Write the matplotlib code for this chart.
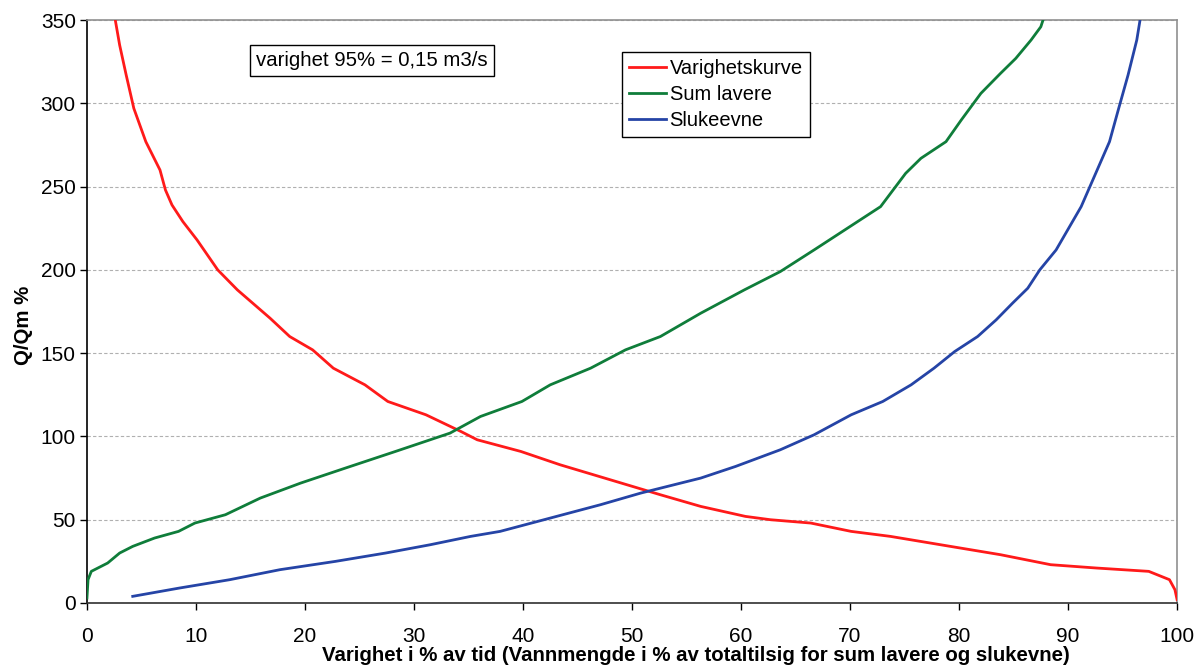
import numpy as np
import matplotlib.pyplot as plt

plt.rcParams['font.family'] = ['Liberation Sans', 'DejaVu Sans']

# Varighetskurve
red_x = [2.6, 3.0, 3.6, 4.3, 5.4, 6.7, 7.2, 7.8, 8.8, 10.1, 12.0, 13.8, 16.8, 18.6,
         20.7, 22.6, 25.5, 27.6, 31.1, 34.3, 35.8, 39.8, 43.4, 48.0, 52.6, 56.3,
         60.4, 62.7, 66.4, 70.1, 73.7, 79.2, 83.8, 88.4, 92.6, 97.4, 99.3, 99.8, 100.0]
red_y = [350, 335, 317, 297, 277, 260, 248, 239, 229, 218, 200, 188, 171, 160,
         152, 141, 131, 121, 113, 103, 98, 91, 83, 74, 65, 58,
         52, 50, 48, 43, 40, 34, 29, 23, 21, 19, 14, 8, 2]

# Sum lavere
green_x = [0.0, 0.1, 0.4, 1.9, 3.0, 4.2, 6.2, 8.4, 9.9, 12.7, 15.9, 19.6, 23.7, 28.3,
           33.3, 36.1, 39.9, 42.5, 46.2, 49.4, 52.6, 56.3, 60.3, 63.6, 66.7, 72.8,
           75.1, 76.5, 78.8, 80.2, 82.0, 83.8, 85.2, 86.6, 87.5, 87.7]
green_y = [3, 14, 19, 24, 30, 34, 39, 43, 48, 53, 63, 72, 81, 91,
           102, 112, 121, 131, 141, 152, 160, 174, 188, 199, 212, 238,
           258, 267, 277, 290, 306, 318, 327, 338, 346, 350]

# Slukeevne
blue_x = [4.2, 8.5, 13.1, 17.7, 22.8, 27.4, 31.5, 35.2, 37.9, 42.5, 47.1, 50.8,
          56.3, 59.5, 63.6, 66.7, 70.1, 73.0, 75.6, 77.7, 79.6, 81.7, 83.4, 84.9,
          86.3, 87.4, 88.9, 91.2, 92.6, 93.8, 94.6, 95.5, 96.3, 96.6]
blue_y = [4, 9, 14, 20, 25, 30, 35, 40, 43, 51, 59, 66,
          75, 82, 92, 101, 113, 121, 131, 141, 151, 160, 170, 180,
          189, 200, 212, 238, 259, 277, 296, 317, 338, 350]

fig = plt.figure(figsize=(11.96, 6.70), dpi=100)
ax = fig.add_axes([0.0727, 0.1, 0.9115, 0.87])

ax.plot(red_x, red_y, color='#ff1a1a', lw=2, label='Varighetskurve', zorder=3)
ax.plot(green_x, green_y, color='#0f7d3a', lw=2, label='Sum lavere', zorder=3)
ax.plot(blue_x, blue_y, color='#2544a6', lw=2, label='Slukeevne', zorder=3)

ax.set_xlim(0, 100)
ax.set_ylim(0, 350)
ax.set_xticks(np.arange(0, 101, 10))
ax.set_yticks(np.arange(0, 351, 50))
ax.yaxis.grid(True, color='#b0b0b0', ls=(0, (3, 2)), lw=0.8)
ax.set_axisbelow(True)
ax.tick_params(labelsize=15, length=5, width=1, direction='out')
ax.tick_params(axis='x', pad=12)
ax.tick_params(axis='y', pad=3)

ax.spines['left'].set_color('black')
ax.spines['bottom'].set_color('#303030')
ax.spines['top'].set_color('#909090')
ax.spines['right'].set_color('#909090')
for s in ax.spines.values():
    s.set_linewidth(1.2)

ax.set_xlabel('Varighet i % av tid (Vannmengde i % av totaltilsig for sum lavere og slukevne)',
              fontsize=14.7, fontweight='bold')
ax.xaxis.set_label_coords(0.559, -0.074)
ax.set_ylabel('Q/Qm %', fontsize=14.7, fontweight='bold')
ax.yaxis.set_label_coords(-0.0495, 0.477)

ax.text(0.155, 0.931, 'varighet 95% = 0,15 m3/s', transform=ax.transAxes,
        fontsize=14.7, va='center', ha='left',
        bbox=dict(boxstyle='square,pad=0.3', fc='white', ec='black', lw=1))

leg = ax.legend(loc='upper left', bbox_to_anchor=(0.491, 0.945), fontsize=14.5,
                frameon=True, fancybox=False, edgecolor='black', framealpha=1,
                handlelength=1.8, handletextpad=0.2, borderpad=0.35, labelspacing=0.35,
                borderaxespad=0)
leg.get_frame().set_linewidth(1)

fig.savefig('out.png', dpi=100)
